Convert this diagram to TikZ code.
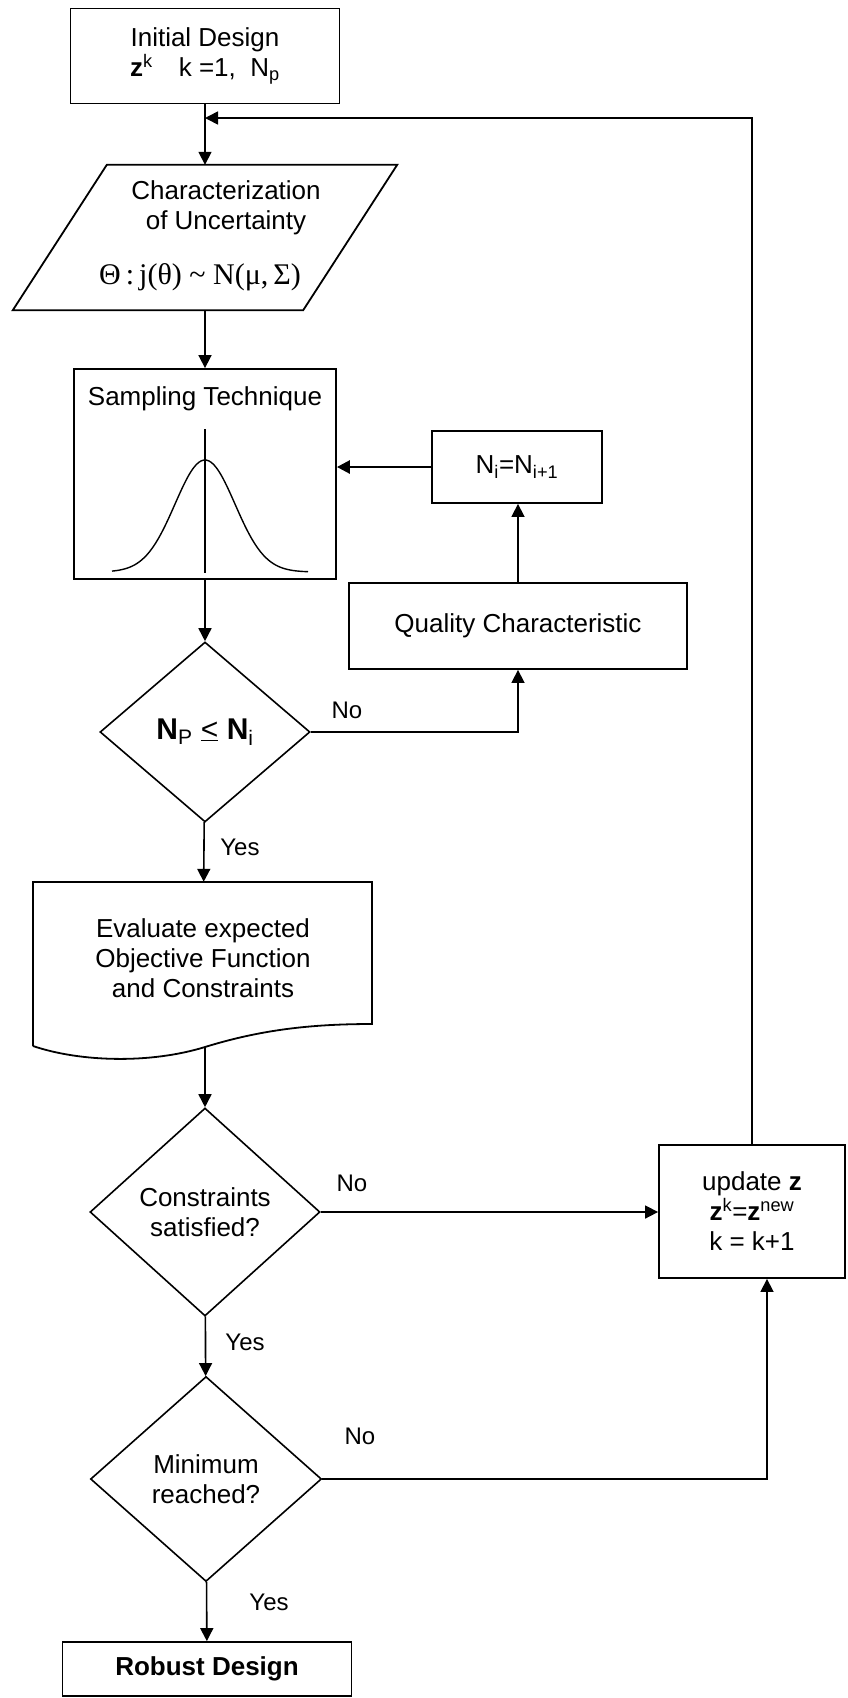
\documentclass[tikz,border=0pt]{standalone}
\usepackage{fontspec}
\setmainfont{Liberation Sans}
\newfontfamily\serifmath{Liberation Serif}
\usetikzlibrary{arrows.meta,positioning,shapes.geometric}

\begin{document}
\begin{tikzpicture}[x=1pt,y=-1pt,
  every node/.style={font=\fontsize{26}{30}\selectfont},
  box/.style={draw,line width=1.8pt,rectangle,inner sep=0pt,align=center},
  dec/.style={draw,line width=1.6pt,diamond,inner sep=0pt,align=center},
  txt/.style={inner sep=0pt,align=center},
  lbl/.style={inner sep=0pt,font=\fontsize{24}{28}\selectfont},
  arr/.style={line width=1.6pt,-{Triangle[length=13pt,width=13pt]}}]

  \useasboundingbox (0,0) rectangle (847,1698);

  % start
  \node[box,minimum width=269pt,minimum height=95pt] (init) at (205,56)
    {Initial Design\\\textbf{z}\textsuperscript{k}\quad k =1,\ \ N\textsubscript{p}};

  % uncertainty (parallelogram)
  \node[txt,minimum width=290pt,minimum height=145pt] (char) at (205,237.5) {};
  \draw[line width=1.8pt] ([xshift=47pt]char.north west) -- ([xshift=47pt]char.north east)
    -- ([xshift=-47pt]char.south east) -- ([xshift=-47pt]char.south west) -- cycle;
  \node[txt] at (226,208) {Characterization\\of Uncertainty};
  \node[txt,font=\serifmath\fontsize{30}{34}\selectfont] at (200,277)
    {Θ\,:\,j(θ) \textasciitilde{} N(μ,\,Σ)};

  % sampling box with bell curve
  \node[box,minimum width=262pt,minimum height=210pt] (samp) at (205,474) {};
  \node[txt] at (205,399) {Sampling Technique};
  \draw[line width=1.4pt] plot[domain=-93:103,samples=80,smooth]
    ({205+\x},{572-112*exp(-0.5*(\x/30)*(\x/30))});
  \draw[line width=2.6pt] (205,429) -- (205,573);

  % sample size loop
  \node[box,minimum width=170pt,minimum height=72pt] (ni) at (517,467)
    {N\textsubscript{i}=N\textsubscript{i+1}};
  \node[box,minimum width=338pt,minimum height=86pt] (qual) at (518,626) {Quality Characteristic};

  % decisions and evaluation
  \node[dec,minimum width=210pt,minimum height=180pt,font=\fontsize{30}{34}\selectfont] (d1) at (205,732)
    {\textbf{N}\textsubscript{P} \underline{<} \textbf{N}\textsubscript{i}};
  \node[txt,minimum width=339pt,minimum height=152pt] (eval) at (203,958)
    {Evaluate expected\\Objective Function\\and Constraints};
  \draw[line width=1.8pt] (33,1046) -- (33,882) -- (372,882) -- (372,1024)
    .. controls (310,1024) and (260,1030) .. (205,1047)
    .. controls (150,1064) and (80,1062) .. (33,1046);
  \coordinate (evalBot) at (205,1047);
  \node[dec,minimum width=230pt,minimum height=208pt] (d2) at (205,1212) {Constraints\\satisfied?};
  \node[dec,minimum width=231pt,minimum height=205pt] (d3) at (206,1479) {Minimum\\reached?};

  % update and end
  \node[box,minimum width=186pt,minimum height=133pt] (upd) at (752,1211.5)
    {update \textbf{z}\\\textbf{z}\textsuperscript{k}=\textbf{z}\textsuperscript{new}\\k = k+1};
  \node[box,minimum width=289pt,minimum height=54pt,font=\bfseries\fontsize{26}{30}\selectfont] (rob) at (207,1669)
    {Robust Design};

  % connectors
  \coordinate (join) at (205,118);
  \draw[arr] (init) -- (char);
  \draw[arr] (char) -- (samp);
  \draw[arr,line width=2.6pt] (ni) -- (ni -| samp.east);
  \draw[arr] (qual.north) -- (qual.north |- ni.south);
  \draw[arr] (samp) -- (d1);
  \draw[arr] (d1.east) -| (qual.south);
  \draw[arr] (d1) -- (eval);
  \draw[arr] (evalBot) -- (d2);
  \draw[arr] (d2.east) -- (d2.east -| upd.west);
  \draw[arr] (d2) -- (d3);
  \draw[arr] (d3.east) -| ([xshift=15pt]upd.south);
  \draw[arr] (d3) -- (rob);
  \draw[arr] (upd.north) |- (join);

  % branch labels
  \node[lbl] at (347,710) {No};
  \node[lbl] at (240,847) {Yes};
  \node[lbl] at (352,1183) {No};
  \node[lbl] at (245,1342) {Yes};
  \node[lbl] at (360,1436) {No};
  \node[lbl] at (269,1602) {Yes};

\end{tikzpicture}
\end{document}
